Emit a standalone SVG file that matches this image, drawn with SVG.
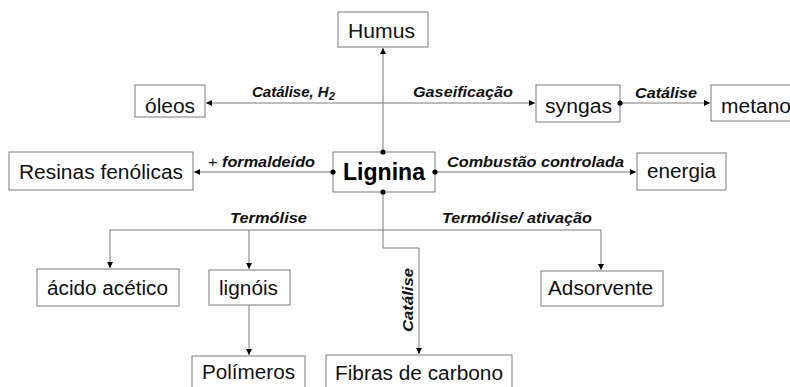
<svg xmlns="http://www.w3.org/2000/svg" width="790" height="387" viewBox="0 0 790 387">
  <style>
    .box { fill: #ffffff; stroke: #7a7a7a; stroke-width: 1; }
    .name { font-family: "Liberation Sans", Arial, sans-serif; font-size: 20px; fill: #111; text-anchor: middle; }
    .main { font-family: "Liberation Sans", Arial, sans-serif; font-size: 23px; font-weight: bold; fill: #000; text-anchor: middle; }
    .lbl { font-family: "Liberation Sans", Arial, sans-serif; font-size: 15px; font-weight: bold; font-style: italic; fill: #111; }
    .wire { fill: none; stroke: #7a7a7a; stroke-width: 1; }
    .dot { fill: #000; }
  </style>
  <defs>
    <marker id="arrow" markerUnits="userSpaceOnUse" markerWidth="7" markerHeight="7" refX="6" refY="3" orient="auto">
      <path d="M0,0 L6,3 L0,6 z" fill="#000"/>
    </marker>
  </defs>
  <rect width="790" height="387" fill="#ffffff"/>

  <!-- connectors -->
  <g id="connectors">
    <path class="wire" d="M383,152 V48" marker-end="url(#arrow)"/>
    <path class="wire" d="M384,103 H206" marker-end="url(#arrow)"/>
    <path class="wire" d="M384,103 H535" marker-end="url(#arrow)"/>
    <path class="wire" d="M620,103 H710" marker-end="url(#arrow)"/>
    <path class="wire" d="M333,172 H194" marker-end="url(#arrow)"/>
    <path class="wire" d="M435,172 H636" marker-end="url(#arrow)"/>
    <path class="wire" d="M383,192 V248 H419 V354" marker-end="url(#arrow)"/>
    <path class="wire" d="M110,230 H601"/>
    <path class="wire" d="M110,230 V268" marker-end="url(#arrow)"/>
    <path class="wire" d="M249,230 V269" marker-end="url(#arrow)"/>
    <path class="wire" d="M601,230 V270" marker-end="url(#arrow)"/>
    <path class="wire" d="M249,305 V355" marker-end="url(#arrow)"/>

    <text class="lbl" x="252" y="97">Catálise, H<tspan font-size="11" dy="3">2</tspan></text>
    <text class="lbl" x="413" y="97" textLength="100" lengthAdjust="spacingAndGlyphs">Gaseificação</text>
    <text class="lbl" x="635" y="98" textLength="62" lengthAdjust="spacingAndGlyphs">Catálise</text>
    <text class="lbl" x="208" y="167" textLength="107" lengthAdjust="spacingAndGlyphs"><tspan font-weight="normal" font-style="normal">+</tspan> formaldeído</text>
    <text class="lbl" x="447" y="167" textLength="177" lengthAdjust="spacingAndGlyphs">Combustão controlada</text>
    <text class="lbl" x="230" y="223" textLength="77" lengthAdjust="spacingAndGlyphs">Termólise</text>
    <text class="lbl" x="442" y="223" textLength="150" lengthAdjust="spacingAndGlyphs">Termólise/ ativação</text>
    <text class="lbl" transform="translate(413,332) rotate(-90)" textLength="64" lengthAdjust="spacingAndGlyphs">Catálise</text>
  </g>

  <!-- nodes -->
  <g id="humus">
    <rect class="box" x="338" y="12" width="90" height="35"/>
    <text class="name" x="381.5" y="38" textLength="67" lengthAdjust="spacingAndGlyphs">Humus</text>
  </g>
  <g id="oleos">
    <rect class="box" x="135" y="85" width="70" height="32"/>
    <text class="name" x="170" y="113" textLength="50" lengthAdjust="spacingAndGlyphs">óleos</text>
  </g>
  <g id="syngas">
    <rect class="box" x="536" y="85" width="84" height="37"/>
    <text class="name" x="578.5" y="113" textLength="67" lengthAdjust="spacingAndGlyphs">syngas</text>
  </g>
  <g id="metano">
    <rect class="box" x="711" y="85" width="100" height="36"/>
    <text class="name" x="721" y="113" style="text-anchor:start" textLength="70" lengthAdjust="spacingAndGlyphs">metano</text>
  </g>
  <g id="resinas">
    <rect class="box" x="9" y="152" width="184" height="38"/>
    <text class="name" x="101" y="179" textLength="164" lengthAdjust="spacingAndGlyphs">Resinas fenólicas</text>
  </g>
  <g id="lignina">
    <rect class="box" x="333" y="152" width="102" height="40"/>
    <text class="main" x="384" y="180" textLength="82" lengthAdjust="spacingAndGlyphs">Lignina</text>
  </g>
  <g id="energia">
    <rect class="box" x="637" y="153" width="89" height="37"/>
    <text class="name" x="681.5" y="178" textLength="69" lengthAdjust="spacingAndGlyphs">energia</text>
  </g>
  <g id="acido-acetico">
    <rect class="box" x="37" y="269" width="142" height="37"/>
    <text class="name" x="107.5" y="295" textLength="121" lengthAdjust="spacingAndGlyphs">ácido acético</text>
  </g>
  <g id="lignois">
    <rect class="box" x="209" y="270" width="81" height="35"/>
    <text class="name" x="248.5" y="295" textLength="59" lengthAdjust="spacingAndGlyphs">lignóis</text>
  </g>
  <g id="adsorvente">
    <rect class="box" x="541" y="271" width="122" height="35"/>
    <text class="name" x="600.5" y="295" textLength="105" lengthAdjust="spacingAndGlyphs">Adsorvente</text>
  </g>
  <g id="polimeros">
    <rect class="box" x="192" y="356" width="113" height="45"/>
    <text class="name" x="248.5" y="379" textLength="93" lengthAdjust="spacingAndGlyphs">Polímeros</text>
  </g>
  <g id="fibras-de-carbono">
    <rect class="box" x="326" y="355" width="186" height="45"/>
    <text class="name" x="419" y="380" textLength="168" lengthAdjust="spacingAndGlyphs">Fibras de carbono</text>
  </g>

  <!-- junction dots where lines leave a box, kept above the box borders -->
  <g id="junctions">
    <circle class="dot" cx="383" cy="152" r="2.6"/>
    <circle class="dot" cx="383" cy="192" r="2.6"/>
    <circle class="dot" cx="333" cy="172" r="2.6"/>
    <circle class="dot" cx="435" cy="172" r="2.6"/>
    <circle class="dot" cx="620" cy="103" r="2.6"/>
  </g>
</svg>
